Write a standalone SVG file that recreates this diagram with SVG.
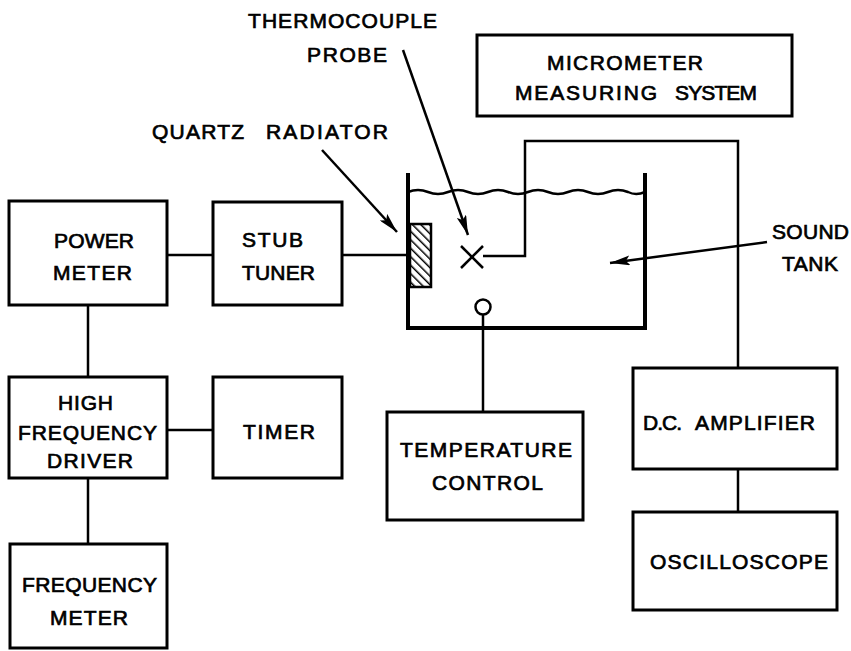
<svg xmlns="http://www.w3.org/2000/svg" width="851" height="651" viewBox="0 0 851 651">
<style>
.box{fill:none;stroke:#000;stroke-width:3}
.ln{fill:none;stroke:#000;stroke-width:2.5}
.wall{fill:none;stroke:#000;stroke-width:4;stroke-linejoin:miter}
text{font-family:"Liberation Sans",Arial,sans-serif;font-size:21px;fill:#000;stroke:#000;stroke-width:0.7}
</style>
<defs>
<marker id="ah" viewBox="0 0 20 10" refX="20" refY="5" markerWidth="20" markerHeight="10" markerUnits="userSpaceOnUse" orient="auto">
<path d="M0,0 L20,5 L0,10 L4,5 Z" fill="#000"/>
</marker>
<pattern id="hatch" patternUnits="userSpaceOnUse" width="6" height="6" patternTransform="rotate(-45)">
<rect width="6" height="6" fill="#fff"/>
<line x1="0" y1="0" x2="0" y2="6" stroke="#000" stroke-width="3"/>
</pattern>
</defs>
<rect width="851" height="651" fill="#fff"/>

<g id="connectors">
<line class="ln" x1="167" y1="255" x2="213" y2="255"/>
<line class="ln" x1="342" y1="255" x2="408" y2="255"/>
<line class="ln" x1="88" y1="305" x2="88" y2="377"/>
<line class="ln" x1="167" y1="430" x2="213" y2="430"/>
<line class="ln" x1="88" y1="478" x2="88" y2="544"/>
<polyline class="ln" points="483,256 525,256 525,141 738,141 738,368"/>
<line class="ln" x1="738" y1="469" x2="738" y2="512"/>
<line class="ln" x1="483" y1="315" x2="483" y2="412"/>
<line class="ln" x1="403" y1="50" x2="468" y2="235" marker-end="url(#ah)"/>
<line class="ln" x1="322" y1="150" x2="397" y2="232" marker-end="url(#ah)"/>
<line class="ln" x1="767" y1="242" x2="610" y2="263" marker-end="url(#ah)"/>
</g>

<g id="tank">
<polyline class="wall" points="408,173 408,328 645,328 645,173"/>
<path class="ln" stroke-width="2" d="M408,192 q10,-4 20,0 q10,4 20,0 q10,-4 20,0 q10,4 20,0 q10,-4 20,0 q10,4 20,0 q10,-4 20,0 q10,4 20,0 q10,-4 20,0 q10,4 20,0 q10,-4 20,0 q8,4 17,0"/>
<text x="772" y="239" textLength="77" lengthAdjust="spacing">SOUND</text>
<text x="782" y="271" textLength="56" lengthAdjust="spacing">TANK</text>
</g>

<g id="quartz-radiator">
<rect x="410" y="224" width="21" height="63" fill="url(#hatch)" stroke="#000" stroke-width="2.5"/>
<text x="152" y="139" textLength="92" lengthAdjust="spacing">QUARTZ</text>
<text x="266" y="139" textLength="122" lengthAdjust="spacing">RADIATOR</text>
</g>

<g id="thermocouple-probe">
<line class="ln" x1="461" y1="246" x2="483" y2="268"/>
<line class="ln" x1="483" y1="246" x2="461" y2="268"/>
<text x="248" y="28" textLength="189" lengthAdjust="spacing">THERMOCOUPLE</text>
<text x="307" y="62" textLength="80" lengthAdjust="spacing">PROBE</text>
</g>

<g id="temp-sensor">
<circle cx="483" cy="307" r="7.5" fill="#fff" stroke="#000" stroke-width="2.5"/>
</g>

<g id="micrometer">
<rect class="box" x="477" y="35" width="315" height="81"/>
<text x="547" y="70" textLength="156" lengthAdjust="spacing">MICROMETER</text>
<text x="515" y="100" textLength="142" lengthAdjust="spacing">MEASURING</text>
<text x="675" y="100" textLength="82" lengthAdjust="spacing">SYSTEM</text>
</g>

<g id="power-meter">
<rect class="box" x="9" y="201" width="158" height="104"/>
<text x="54" y="248" textLength="80" lengthAdjust="spacing">POWER</text>
<text x="53" y="280" textLength="79" lengthAdjust="spacing">METER</text>
</g>

<g id="stub-tuner">
<rect class="box" x="213" y="202" width="129" height="103"/>
<text x="242" y="247" textLength="61" lengthAdjust="spacing">STUB</text>
<text x="242" y="280" textLength="73" lengthAdjust="spacing">TUNER</text>
</g>

<g id="hf-driver">
<rect class="box" x="9" y="377" width="158" height="101"/>
<text x="58" y="410" textLength="55" lengthAdjust="spacing">HIGH</text>
<text x="18" y="440" textLength="139" lengthAdjust="spacing">FREQUENCY</text>
<text x="47" y="468" textLength="86" lengthAdjust="spacing">DRIVER</text>
</g>

<g id="timer">
<rect class="box" x="213" y="377" width="129" height="101"/>
<text x="243" y="439" textLength="72" lengthAdjust="spacing">TIMER</text>
</g>

<g id="frequency-meter">
<rect class="box" x="10" y="544" width="157" height="104"/>
<text x="22" y="592" textLength="135" lengthAdjust="spacing">FREQUENCY</text>
<text x="50" y="625" textLength="78" lengthAdjust="spacing">METER</text>
</g>

<g id="temperature-control">
<rect class="box" x="387" y="412" width="196" height="108"/>
<text x="400" y="457" textLength="172" lengthAdjust="spacing">TEMPERATURE</text>
<text x="432" y="490" textLength="111" lengthAdjust="spacing">CONTROL</text>
</g>

<g id="dc-amplifier">
<rect class="box" x="633" y="368" width="204" height="101"/>
<text x="643" y="430" textLength="39" lengthAdjust="spacing">D.C.</text>
<text x="695" y="430" textLength="120" lengthAdjust="spacing">AMPLIFIER</text>
</g>

<g id="oscilloscope">
<rect class="box" x="633" y="512" width="204" height="98"/>
<text x="650" y="569" textLength="178" lengthAdjust="spacing">OSCILLOSCOPE</text>
</g>
</svg>
